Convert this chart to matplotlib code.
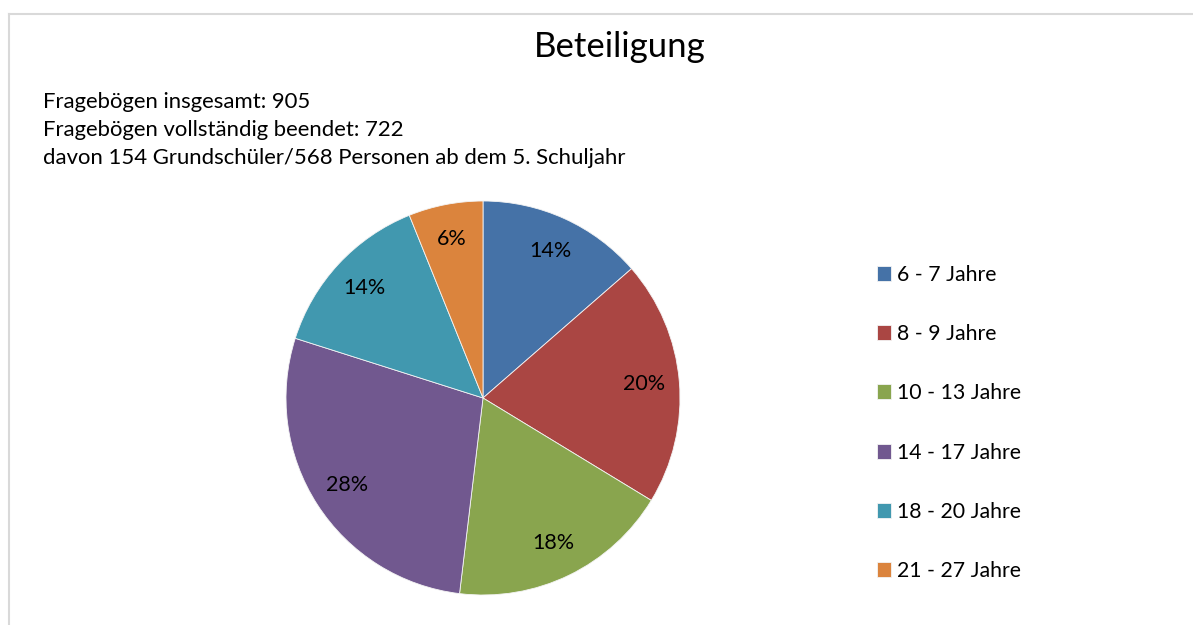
import matplotlib.pyplot as plt
from matplotlib.lines import Line2D

plt.rcParams['font.family'] = ['Lato', 'DejaVu Sans']

labels = ['6 - 7 Jahre', '8 - 9 Jahre', '10 - 13 Jahre', '14 - 17 Jahre', '18 - 20 Jahre', '21 - 27 Jahre']
shares = [13.6, 20.1, 18.2, 28.0, 14.0, 6.1]
colors = ['#4572A7', '#AA4643', '#89A54E', '#71588F', '#4198AF', '#DB843D']
info = ['Fragebögen insgesamt: 905',
        'Fragebögen vollständig beendet: 722',
        'davon 154 Grundschüler/568 Personen ab dem 5. Schuljahr']

W, H = 1193, 625
fig = plt.figure(figsize=(W / 100, H / 100), dpi=100)

# pie centre and radius in pixels
cx, cy, r = 483, 398, 197
ax = fig.add_axes([(cx - r) / W, (H - cy - r) / H, 2 * r / W, 2 * r / H])
wedges, _, autotexts = ax.pie(shares, colors=colors, startangle=90, counterclock=False,
                              autopct='%1.0f%%', pctdistance=0.82, radius=1,
                              wedgeprops=dict(edgecolor='#f4f4f4', linewidth=0.6),
                              textprops=dict(fontsize=15.5, color='black'))
ax.set_xlim(-1, 1); ax.set_ylim(-1, 1)
ax.set_aspect('equal')

fig.text(620 / W, 1 - 47 / H, 'Beteiligung', ha='center', va='center', fontsize=25)
for i, line in enumerate(info):
    fig.text(43 / W, 1 - (102 + 28 * i) / H, line, ha='left', va='center', fontsize=15.9)

fig.legend(wedges, labels, loc='center left', bbox_to_anchor=(866 / W, 1 - 423 / H),
           frameon=False, fontsize=15.3, handlelength=0.7, handleheight=0.7,
           handletextpad=0.25, labelspacing=1.85, borderpad=0)

# chart frame (only top and left edges visible)
fig.add_artist(Line2D([9 / W, 1], [1 - 14 / H, 1 - 14 / H], color='#d9d9d9', lw=1.5))
fig.add_artist(Line2D([9 / W, 9 / W], [0, 1 - 14 / H], color='#d9d9d9', lw=1.5))

fig.savefig('out.png', dpi=100)
